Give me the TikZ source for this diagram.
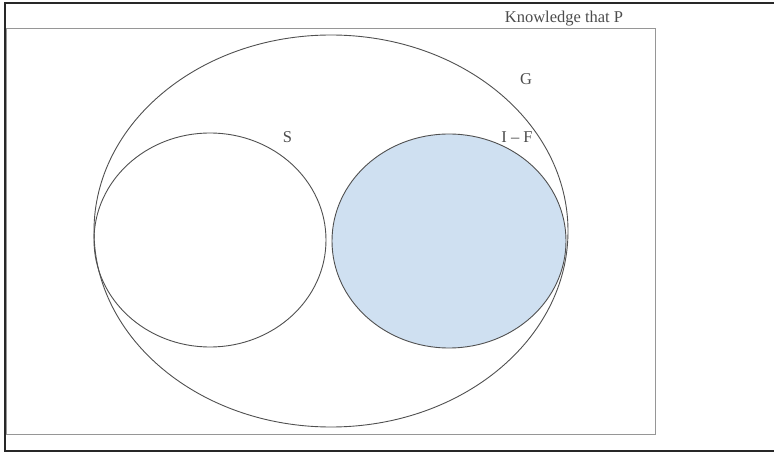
\documentclass[tikz,border=0pt]{standalone}
\usepackage{fontspec}
\setmainfont{Liberation Serif}
\definecolor{fillblue}{RGB}{207,224,241}
\definecolor{frame}{RGB}{40,40,40}
\definecolor{boxgray}{RGB}{150,150,150}
\definecolor{linegray}{RGB}{80,80,80}
\begin{document}
\begin{tikzpicture}[x=1pt,y=-1pt,
  lbl/.style={font=\fontsize{16.5}{18}\selectfont, text=black!70, inner sep=0pt, anchor=base},
  setline/.style={draw=linegray, line width=0.9pt}]
\useasboundingbox (0,0) rectangle (774,454);
% outer frame
\draw[frame, line width=2pt] (774,3) -- (5,3) -- (5,451) -- (774,451);
% inner box
\node[draw=boxgray, line width=1.2pt, minimum width=649, minimum height=406, inner sep=0pt, anchor=north west] (box) at (6,28) {};
% big ellipse G
\draw[setline] (331,231) ellipse [x radius=237, y radius=196];
% S circle
\draw[setline] (210,240) ellipse [x radius=116, y radius=107];
% I-F ellipse
\draw[setline, fill=fillblue] (449,241) ellipse [x radius=117, y radius=107];
% labels
\node[lbl] (kp) at (564,23) {Knowledge that P};
\node[lbl] (g) at (526,85) {G};
\node[lbl] (s) at (287.5,143) {S};
\node[lbl] (if) at (517,143) {I – F};
\end{tikzpicture}
\end{document}
